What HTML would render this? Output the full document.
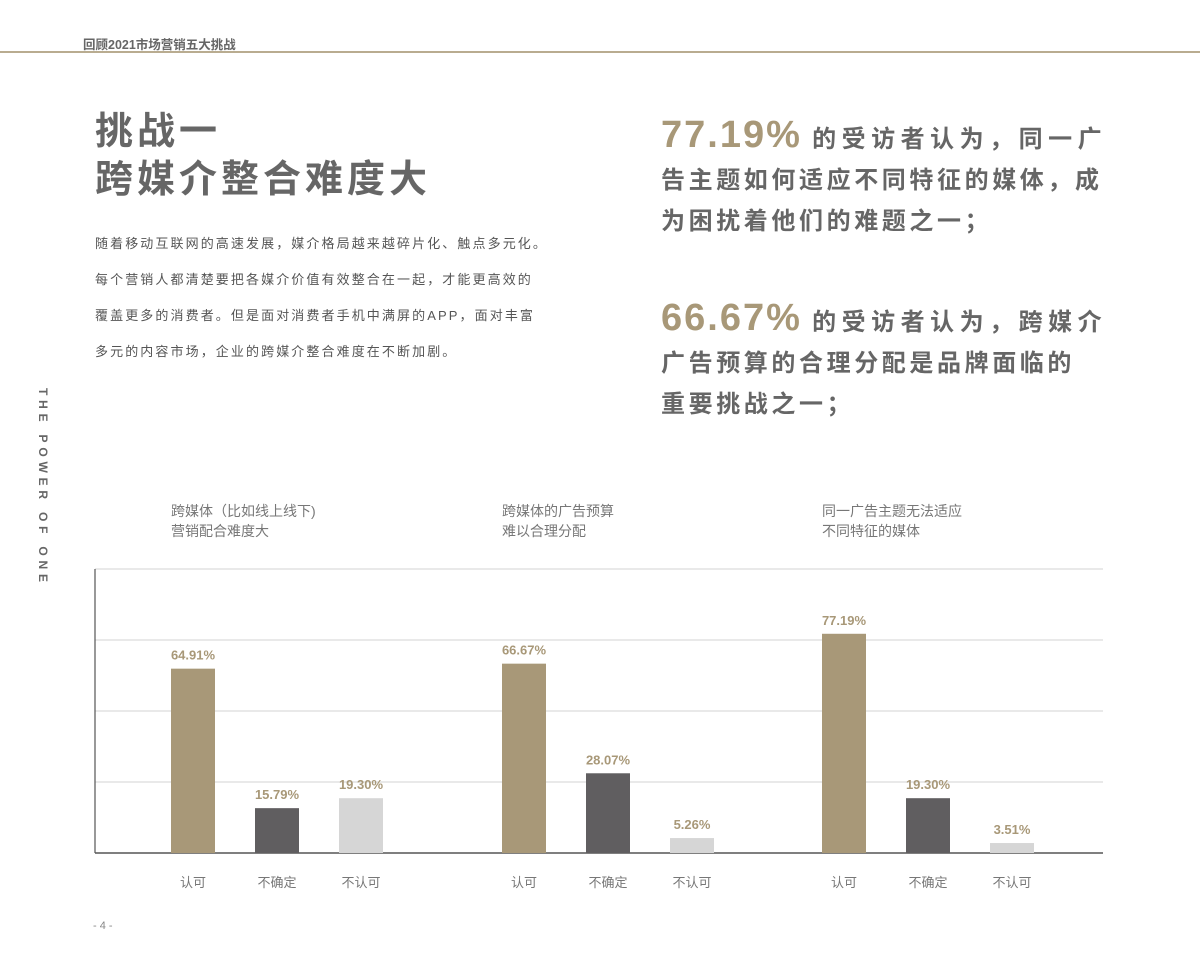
<!DOCTYPE html>
<html><head><meta charset="utf-8">
<style>
body{margin:0;width:1200px;height:970px;background:#fff;position:relative;overflow:hidden;font-family:"Liberation Sans","Noto Sans CJK SC",sans-serif;color:#666}
.abs{position:absolute;white-space:nowrap}
</style></head><body>
<div class="abs" style="left:83px;top:34px;font-size:12.5px;font-weight:bold;color:#666">回顾2021市场营销五大挑战</div>
<div class="abs" style="left:0;top:51px;width:1200px;height:1.5px;background:#b9ac90"></div>
<div class="abs" style="left:95px;top:108px;font-size:38px;font-weight:bold;color:#666;letter-spacing:4px;line-height:48px">挑战一<br>跨媒介整合难度大</div>
<div class="abs" style="left:95px;top:226px;font-size:13px;color:#555;line-height:36px;letter-spacing:2.1px">随着移动互联网的高速发展，媒介格局越来越碎片化、触点多元化。<br>每个营销人都清楚要把各媒介价值有效整合在一起，才能更高效的<br>覆盖更多的消费者。但是面对消费者手机中满屏的APP，面对丰富<br>多元的内容市场，企业的跨媒介整合难度在不断加剧。</div>
<div class="abs" style="left:661px;top:115px;font-size:24px;font-weight:bold;color:#666;line-height:41px;letter-spacing:3.6px"><span style="font-size:38px;color:#a89878;letter-spacing:2px">77.19%</span> <span style="letter-spacing:5.5px">的受访者认为，同一广</span><br>告主题如何适应不同特征的媒体，成<br>为困扰着他们的难题之一；</div>
<div class="abs" style="left:661px;top:298px;font-size:24px;font-weight:bold;color:#666;line-height:41px;letter-spacing:3.6px"><span style="font-size:38px;color:#a89878;letter-spacing:2px">66.67%</span> <span style="letter-spacing:5.5px">的受访者认为，跨媒介</span><br>广告预算的合理分配是品牌面临的<br>重要挑战之一；</div>
<div class="abs" style="left:36px;top:388px;font-size:12px;font-weight:bold;color:#666;letter-spacing:4.8px;writing-mode:vertical-rl">THE POWER OF ONE</div>
<div class="abs" style="left:93px;top:920px;font-size:11px;color:#888">- 4 -</div>
<svg id="chart" class="abs" style="left:0;top:0" width="1200" height="970"></svg>
<script>
const groupTitles=[["跨媒体（比如线上线下)","营销配合难度大"],["跨媒体的广告预算","难以合理分配"],["同一广告主题无法适应","不同特征的媒体"]];
const categories=["认可","不确定","不认可"];
const approveValues=[64.91,66.67,77.19];
const unsureValues=[15.79,28.07,19.30];
const disapproveValues=[19.30,5.26,3.51];
const gridTicks=[0,25,50,75,100];
const svg=document.getElementById('chart');
const NS='http://www.w3.org/2000/svg';
const x0=95,x1=1103,yBase=853,yTop=569;
const y=v=>yBase-(v/100)*(yBase-yTop);
const groupX=[171,502,822],barStep=84,barW=44;
const colors=['#a89878','#605e60','#d6d6d6'];
function mk(tag,attrs){const e=document.createElementNS(NS,tag);for(const k in attrs)e.setAttribute(k,attrs[k]);svg.appendChild(e);return e;}
gridTicks.forEach(t=>{if(t===0)return;const l=mk('line',{x1:x0,x2:x1,y1:y(t),y2:y(t),stroke:'#dcdcdc','stroke-width':1.2});

});
const ax=mk('line',{x1:x0,x2:x1,y1:yBase,y2:yBase,stroke:'#555','stroke-width':1.5});


const ay=mk('line',{x1:x0,x2:x0,y1:yTop,y2:yBase,stroke:'#555','stroke-width':1.2});


const series=[approveValues,unsureValues,disapproveValues];
groupTitles.forEach((tt,g)=>{
 tt.forEach((s,i)=>{const t=mk('text',{x:groupX[g],y:516+i*20,'font-size':14,fill:'#777'});t.textContent=s;
 
 });
 series.forEach((vals,c)=>{
  const v=vals[g],bx=groupX[g]+c*barStep;
  const r=mk('rect',{x:bx,y:y(v),width:barW,height:yBase-y(v),fill:colors[c]});
  
  
  const lb=mk('text',{x:bx+barW/2,y:y(v)-9,'text-anchor':'middle','font-size':13,'font-weight':'bold',fill:'#a89878'});
  lb.textContent=v.toFixed(2)+'%';
  
  
  const cl=mk('text',{x:bx+barW/2,y:887,'text-anchor':'middle','font-size':13,fill:'#777'});
  cl.textContent=categories[c];
  
  
 });
});
</script>
</body></html>
